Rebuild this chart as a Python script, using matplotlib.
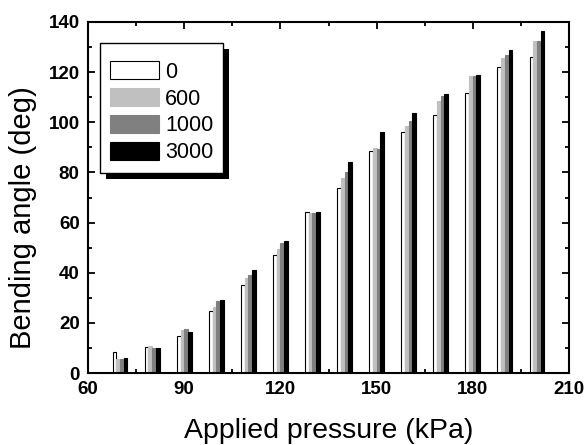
import matplotlib
matplotlib.use("Agg")
import matplotlib.pyplot as plt
import numpy as np
from matplotlib.patches import Rectangle
from matplotlib.ticker import MultipleLocator

pressure = [70, 80, 90, 100, 110, 120, 130, 140, 150, 160, 170, 180, 190, 200]
series_labels = ["0", "600", "1000", "3000"]
angle_0 = [8.2, 10.4, 14.8, 24.7, 35.0, 47.1, 64.4, 73.7, 88.5, 96.3, 102.8, 111.7, 121.9, 126.2]
angle_600 = [5.5, 10.8, 17.3, 26.5, 37.8, 49.3, 63.9, 77.7, 89.6, 98.7, 108.5, 118.3, 125.6, 132.3]
angle_1000 = [5.5, 10.1, 17.5, 28.9, 39.0, 51.7, 63.7, 80.3, 89.3, 100.4, 110.4, 118.6, 126.8, 132.4]
angle_3000 = [5.8, 9.9, 16.5, 29.1, 41.2, 52.6, 64.1, 84.0, 96.0, 103.6, 111.3, 118.9, 128.8, 136.4]

plt.rcParams['font.family'] = ['Liberation Sans', 'DejaVu Sans']

W, H = 586, 445
L, R, T, B = 88, 569, 22, 373
fig = plt.figure(figsize=(W/100, H/100), dpi=100)
ax = fig.add_axes([L/W, 1-B/H, (R-L)/W, (B-T)/H])

def axx(px):
    return (px - L) / (R - L)

def axy(py):
    return (B - py) / (B - T)

colors = ["white", "#c0c0c0", "#808080", "black"]
edges = ["black", "#c0c0c0", "#808080", "black"]
data = [angle_0, angle_600, angle_1000, angle_3000]
w = 1.15
x = np.array(pressure, dtype=float)
for i, (vals, c, ec, lab) in enumerate(zip(data, colors, edges, series_labels)):
    ax.bar(x + (i - 1.5) * w, vals, width=w, color=c, edgecolor=ec, linewidth=0.8, label=lab, zorder=2)

ax.set_xlim(60, 210)
ax.set_ylim(0, 140)
ax.xaxis.set_major_locator(MultipleLocator(30))
ax.xaxis.set_minor_locator(MultipleLocator(15))
ax.yaxis.set_major_locator(MultipleLocator(20))
ax.yaxis.set_minor_locator(MultipleLocator(10))
ax.tick_params(which='both', direction='in', top=True, right=True, width=1.3)
ax.tick_params(which='major', length=5, labelsize=13.5, pad=6)
ax.tick_params(which='minor', length=3)
for lab in ax.get_xticklabels() + ax.get_yticklabels():
    lab.set_fontweight('bold')
for s in ax.spines.values():
    s.set_linewidth(1.5)

ax.set_xlabel("Applied pressure (kPa)", fontsize=20.5, labelpad=14)
ax.set_ylabel("Bending angle (deg)", fontsize=21, labelpad=8)
ax.yaxis.label.set_y(0.443)

# legend (content) and a boxed frame with a solid drop shadow
leg = ax.legend(loc='upper left', bbox_to_anchor=(axx(110), axy(61.2)), fontsize=15.5,
                frameon=False, handlelength=2.28, handleheight=0.92, labelspacing=0.25,
                handletextpad=0.28, borderpad=0, borderaxespad=0)
leg.set_zorder(6)
fx0, fx1, fy0, fy1 = axx(100), axx(223), axy(173), axy(43)
sdx, sdy = 6 / (R - L), -6 / (B - T)
ax.add_patch(Rectangle((fx0 + sdx, fy0 + sdy), fx1 - fx0, fy1 - fy0, transform=ax.transAxes,
                       facecolor='black', edgecolor='none', zorder=4.7, clip_on=False))
ax.add_patch(Rectangle((fx0, fy0), fx1 - fx0, fy1 - fy0, transform=ax.transAxes,
                       facecolor='white', edgecolor='black', linewidth=1.0, zorder=4.8, clip_on=False))

fig.savefig("out.png", dpi=100)
